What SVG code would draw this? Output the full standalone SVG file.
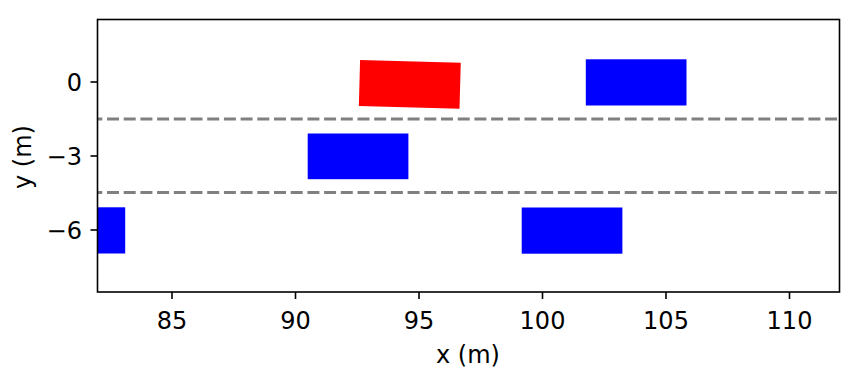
<svg xmlns="http://www.w3.org/2000/svg" width="862" height="372" viewBox="0 0 862 372">
<style>
  .lbl { font-family: "DejaVu Sans", "Liberation Sans", sans-serif; font-size: 24px; fill: #000; }
  .tick { stroke: #000; stroke-width: 1.6; }
  .lane { stroke: #808080; stroke-width: 3; stroke-dasharray: 12 4.7; stroke-dashoffset: 7.2; fill: none; }
  .car { fill: #0000ff; }
  .ego { fill: #ff0000; }
</style>
<defs>
  <clipPath id="ax"><rect x="97.5" y="19.5" width="742" height="272.5"/></clipPath>
</defs>
<rect width="862" height="372" fill="#fff"/>
<g id="lanes" clip-path="url(#ax)">
  <line class="lane" x1="97.5" y1="119" x2="839.5" y2="119"/>
  <line class="lane" x1="97.5" y1="192.5" x2="839.5" y2="192.5"/>
</g>
<g id="vehicles" clip-path="url(#ax)">
  <rect id="car1" class="car" x="24.5" y="207.3" width="100.7" height="46.2"/>
  <rect id="car2" class="car" x="307.7" y="133.5" width="100.7" height="45.7"/>
  <rect id="car3" class="car" x="521.7" y="207.5" width="100.7" height="46.2"/>
  <rect id="car4" class="car" x="585.8" y="59.3" width="100.7" height="46.2"/>
  <rect id="ego" class="ego" x="-50.35" y="-23" width="100.7" height="46" transform="translate(409.8 84.4) rotate(1.55)"/>
</g>
<g id="axes">
  <rect x="97.5" y="19.5" width="742" height="272.5" fill="none" stroke="#000" stroke-width="1.6"/>
  <g id="xticks">
    <line class="tick" x1="172" y1="292" x2="172" y2="299"/>
    <line class="tick" x1="295.5" y1="292" x2="295.5" y2="299"/>
    <line class="tick" x1="419" y1="292" x2="419" y2="299"/>
    <line class="tick" x1="542.5" y1="292" x2="542.5" y2="299"/>
    <line class="tick" x1="666" y1="292" x2="666" y2="299"/>
    <line class="tick" x1="789.5" y1="292" x2="789.5" y2="299"/>
    <text class="lbl" x="172" y="329" text-anchor="middle">85</text>
    <text class="lbl" x="295.5" y="329" text-anchor="middle">90</text>
    <text class="lbl" x="419" y="329" text-anchor="middle">95</text>
    <text class="lbl" x="542.5" y="329" text-anchor="middle">100</text>
    <text class="lbl" x="666" y="329" text-anchor="middle">105</text>
    <text class="lbl" x="789.5" y="329" text-anchor="middle">110</text>
  </g>
  <g id="yticks">
    <line class="tick" x1="90.5" y1="82" x2="97.5" y2="82"/>
    <line class="tick" x1="90.5" y1="156" x2="97.5" y2="156"/>
    <line class="tick" x1="90.5" y1="230" x2="97.5" y2="230"/>
    <text class="lbl" x="82" y="90.7" text-anchor="end">0</text>
    <text class="lbl" x="82" y="164.7" text-anchor="end">−3</text>
    <text class="lbl" x="82" y="238.7" text-anchor="end">−6</text>
  </g>
  <text class="lbl" x="468" y="363" text-anchor="middle">x (m)</text>
  <text class="lbl" x="0" y="0" text-anchor="middle" transform="translate(31 157) rotate(-90)">y (m)</text>
</g>
</svg>
